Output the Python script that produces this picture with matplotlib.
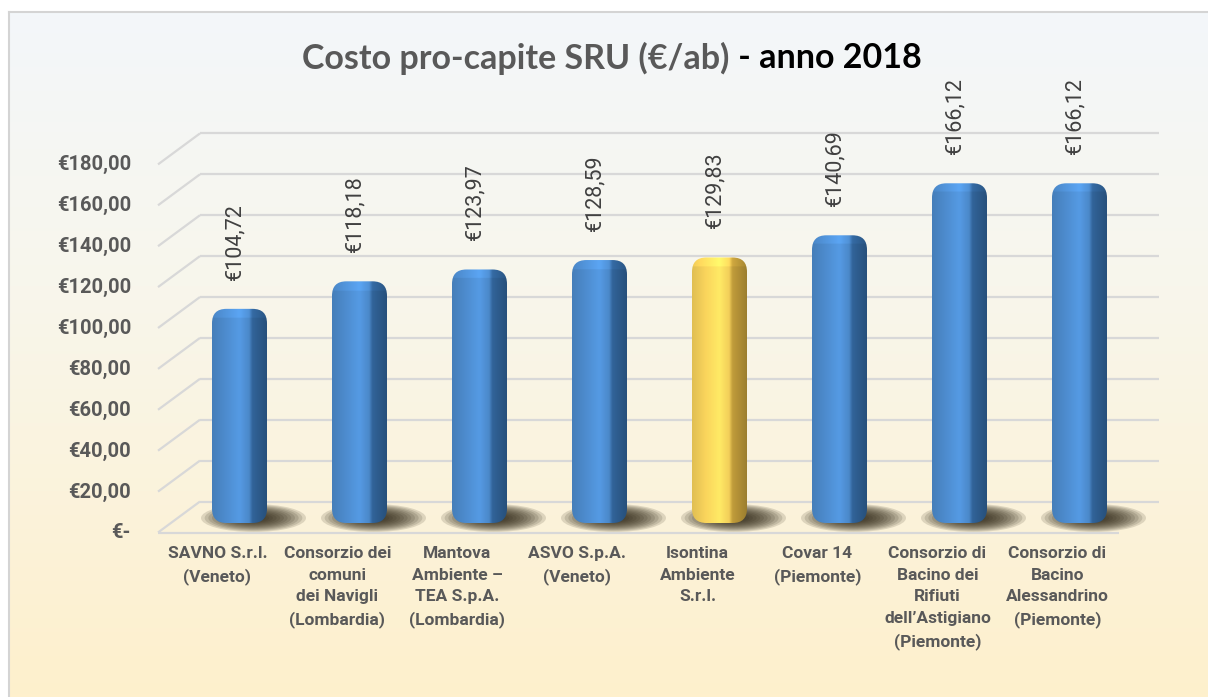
import numpy as np
import matplotlib
matplotlib.use("Agg")
import matplotlib.pyplot as plt
from matplotlib.patches import FancyBboxPatch, Ellipse
from matplotlib.colors import to_rgb

CATEGORIES = [
    "SAVNO S.r.l.\n(Veneto)",
    "Consorzio dei\ncomuni\ndei Navigli\n(Lombardia)",
    "Mantova\nAmbiente \u2013\nTEA S.p.A.\n(Lombardia)",
    "ASVO S.p.A.\n(Veneto)",
    "Isontina\nAmbiente\nS.r.l.",
    "Covar 14\n(Piemonte)",
    "Consorzio di\nBacino dei\nRifiuti\ndell\u2019Astigiano\n(Piemonte)",
    "Consorzio di\nBacino\nAlessandrino\n(Piemonte)",
]
VALUES = [104.72, 118.18, 123.97, 128.59, 129.83, 140.69, 166.12, 166.12]
HIGHLIGHT = 4  # Isontina Ambiente
TICKS = [0, 20, 40, 60, 80, 100, 120, 140, 160, 180]

FONT = ["Roboto", "DejaVu Sans"]

# px -> data helpers (x: 120 px per category, y: 2.045 px per euro)
PX_X = 120.0
PX_Y = 2.045


def euro(v):
    if v == 0:
        return "\u20ac-"
    return "\u20ac" + f"{v:,.2f}".replace(",", "X").replace(".", ",").replace("X", ".")


def bar_gradient(base, side):
    # horizontal profile across the bar: front face + darker side
    b = np.array(to_rgb(base))
    s = np.array(to_rgb(side))
    stops = [(0.0, b * 0.88), (0.25, b * 0.98), (0.5, np.minimum(b * 1.08, 1)),
             (0.68, b * 0.95), (0.74, s * 1.05), (1.0, s * 0.85)]
    xs = np.linspace(0, 1, 64)
    cols = np.zeros((64, 3))
    for c in range(3):
        cols[:, c] = np.interp(xs, [p for p, _ in stops], [v[c] for _, v in stops])
    return cols


fig = plt.figure(figsize=(12.08, 6.97), dpi=100)
fig.patch.set_facecolor("white")

# background panel with gradient
bg = fig.add_axes([0, 0, 1, 1], zorder=-5)
bg.set_xlim(0, 1208)
bg.set_ylim(697, 0)
bg.axis("off")
top = np.array(to_rgb("#f3f7fa"))
mid = np.array(to_rgb("#f8f6ec"))
bot = np.array(to_rgb("#fef0cc"))
t = np.linspace(0, 1, 200)[:, None]
grad = np.where(t < 0.4, top + (mid - top) * (t / 0.4), mid + (bot - mid) * ((t - 0.4) / 0.6))
bg.imshow(grad[:, None, :].repeat(2, axis=1), extent=(9, 1208, 697, 12), aspect="auto")
bg.plot([9, 9], [697, 12], color="#d4d4d4", lw=1.5)
bg.plot([9, 1208], [12, 12], color="#d4d4d4", lw=1.5)

ax = fig.add_axes([179.5 / 1208, 174 / 697, 960 / 1208, 180 * PX_Y / 697])
ax.set_xlim(-0.5, 7.5)
ax.set_ylim(0, 180)
ax.axis("off")

x = np.arange(len(VALUES))

# grid: back wall lines, diagonals to the front
back_dy = 21.5 / PX_Y
front_dy = -9.5 / PX_Y
back_x0, back_x1 = (200 - 239.5) / PX_X, (1159 - 239.5) / PX_X
front_x0 = (158 - 239.5) / PX_X
grid_kw = dict(color="#d8d8d8", lw=1.6, clip_on=False, zorder=1, solid_capstyle="butt")
for v in TICKS:
    ax.plot([back_x0, back_x1], [v + back_dy, v + back_dy], **grid_kw)
    ax.plot([front_x0, back_x0], [v + front_dy, v + back_dy], **grid_kw)
    ax.text((131 - 239.5) / PX_X, v - 10 / PX_Y, euro(v), ha="right", va="center",
            fontsize=14.5, fontweight="bold", color="#595959", family=FONT)
# floor front edge
ax.plot([front_x0, (1119 - 239.5) / PX_X], [front_dy, front_dy], **grid_kw)

# bars
colors = ["#4f8fd3"] * len(VALUES)
sides = ["#2f5f92"] * len(VALUES)
colors[HIGHLIGHT] = "#ffd95e"
sides[HIGHLIGHT] = "#b89538"
bars = ax.bar(x, VALUES, width=55 / PX_X, color="none", edgecolor="none")
for i, r in enumerate(bars):
    x0, w, h = r.get_x(), r.get_width(), r.get_height()
    # soft shadow on the floor, cast to the right
    for k in range(12):
        f = 1 - k * 0.07
        ax.add_patch(Ellipse((x0 + w / 2 + 14 / PX_X, 5 / PX_Y), 105 / PX_X * f, 28 / PX_Y * f,
                             color="#2a2312", alpha=0.14, lw=0, zorder=2, clip_on=False))
    patch = FancyBboxPatch((x0, 0), w, h, boxstyle="round,pad=0,rounding_size=0.12",
                           mutation_aspect=PX_X / PX_Y, facecolor="none", edgecolor="none",
                           zorder=3)
    ax.add_patch(patch)
    prof = bar_gradient(colors[i], sides[i])
    rows = np.ones((200, 1))
    img = (rows[:, :, None] * prof[None, :, :])
    # top face slightly lighter
    ntop = max(1, int(200 * (10 / PX_Y) / h))
    img[:ntop] = np.minimum(img[:ntop] * 1.07, 1)
    im = ax.imshow(img, extent=(x0, x0 + w, 0, h), aspect="auto", zorder=3,
                   interpolation="bilinear", origin="upper")
    im.set_clip_path(patch)
    ax.text(x0 + w / 2 - 5 / PX_X, h + 29 / PX_Y, euro(VALUES[i]), rotation=90,
            ha="center", va="bottom", fontsize=15.5, color="#404040", family=FONT,
            clip_on=False)

# category labels (front plane, shifted left)
for i, lab in enumerate(CATEGORIES):
    ax.text(x[i] - 22 / PX_X, -23 / PX_Y, lab, ha="center", va="top", fontsize=12.5,
            fontweight="bold", color="#595959", family=FONT, linespacing=1.55,
            clip_on=False)

ax.set_xlim(-0.5, 7.5)
ax.set_ylim(0, 180)

# title in two colours
renderer = fig.canvas.get_renderer()
t1 = fig.text(0, 1 - 58 / 697, "Costo pro-capite SRU (\u20ac/ab)", fontsize=24.5,
              fontweight="bold", color="#595959", family=["Lato", "DejaVu Sans"], va="center")
t2 = fig.text(0, 1 - 58 / 697, " - anno 2018", fontsize=24.5, fontweight="bold",
              color="black", family=["Lato", "DejaVu Sans"], va="center")
w1 = t1.get_window_extent(renderer).width
w2 = t2.get_window_extent(renderer).width
start = 612 - (w1 + w2) / 2
t1.set_x(start / 1208)
t2.set_x((start + w1) / 1208)

fig.savefig("out.png", dpi=100)
